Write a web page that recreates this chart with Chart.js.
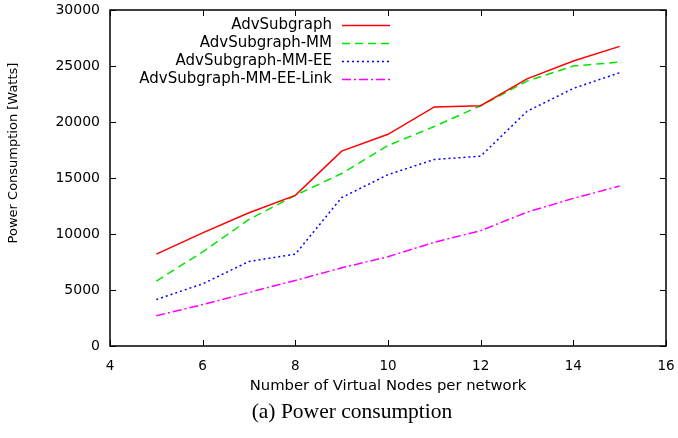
<!DOCTYPE html>
<html>
<head>
<meta charset="utf-8">
<script src="https://cdn.jsdelivr.net/npm/chart.js@4"></script>
<style>
  html, body { margin: 0; padding: 0; background: #fff; }
  #wrap { position: relative; width: 678px; height: 438px; }
  #caption { position: absolute; left: 0; width: 704px; top: 399px; text-align: center;
    font-family: "Liberation Serif", serif; font-size: 21.5px; color: #000; }
</style>
</head>
<body>
<div id="wrap">
  <canvas id="c" width="678" height="438"></canvas>
  <div id="caption">(a) Power consumption</div>
</div>
<script>
const xValues = [5, 6, 7, 8, 9, 10, 11, 12, 13, 14, 15];
const seriesNames = ["AdvSubgraph", "AdvSubgraph-MM", "AdvSubgraph-MM-EE", "AdvSubgraph-MM-EE-Link"];
const advSubgraph = [8200, 10100, 11900, 13450, 17400, 18900, 21350, 21450, 23850, 25450, 26750];
const advSubgraphMM = [5800, 8400, 11300, 13450, 15400, 17900, 19600, 21450, 23650, 25000, 25350];
const advSubgraphMMEE = [4150, 5550, 7550, 8200, 13250, 15300, 16650, 16950, 20950, 23000, 24400];
const advSubgraphMMEELink = [2700, 3700, 4780, 5850, 6980, 7970, 9260, 10300, 11950, 13180, 14280];
const xTicks = [4, 6, 8, 10, 12, 14, 16];
const yTicks = [0, 5000, 10000, 15000, 20000, 25000, 30000];

const colors = ["#ff0000", "#00e600", "#0000ff", "#ff00ff"];
const dashes = [[], [8, 5], [2, 3], [9, 3, 2, 3]];
const allSeries = [advSubgraph, advSubgraphMM, advSubgraphMMEE, advSubgraphMMEELink];

const datasets = allSeries.map((s, i) => ({
  label: seriesNames[i],
  data: xValues.map((x, j) => ({ x: x, y: s[j] })),
  borderColor: colors[i],
  borderWidth: 1.5,
  borderDash: dashes[i],
  pointRadius: 0,
  fill: false,
  tension: 0
}));

const frameAndLegend = {
  id: 'frameAndLegend',
  afterDraw(chart) {
    const ctx = chart.ctx;
    const a = chart.chartArea;
    const xs = chart.scales.x, ys = chart.scales.y;
    ctx.save();
    ctx.strokeStyle = '#000';
    ctx.lineWidth = 1;
    const tl = 6;
    ctx.beginPath();
    xTicks.forEach(v => {
      const px = Math.round(xs.getPixelForValue(v)) + 0.5;
      ctx.moveTo(px, a.bottom); ctx.lineTo(px, a.bottom - tl);
      ctx.moveTo(px, a.top); ctx.lineTo(px, a.top + tl);
    });
    yTicks.forEach(v => {
      const py = Math.round(ys.getPixelForValue(v)) + 0.5;
      ctx.moveTo(a.left, py); ctx.lineTo(a.left + tl, py);
      ctx.moveTo(a.right, py); ctx.lineTo(a.right - tl, py);
    });
    ctx.stroke();
    ctx.lineWidth = 1.5;
    ctx.strokeRect(a.left, a.top, a.right - a.left, a.bottom - a.top);

    // y axis title
    ctx.save();
    ctx.translate(14, 153);
    ctx.rotate(-Math.PI / 2);
    ctx.font = '13px "DejaVu Sans"';
    ctx.fillStyle = '#000';
    ctx.textAlign = 'center';
    ctx.textBaseline = 'middle';
    ctx.fillText('Power Consumption [Watts]', 0, 0);
    ctx.restore();

    // legend
    ctx.font = '15px "DejaVu Sans"';
    ctx.textAlign = 'right';
    ctx.textBaseline = 'middle';
    const textRight = 332, sx0 = 342, sx1 = 390;
    const rowY = [25, 43, 61, 79];
    seriesNames.forEach((n, i) => {
      ctx.fillStyle = '#000';
      ctx.fillText(n, textRight, rowY[i]);
      ctx.strokeStyle = colors[i];
      ctx.lineWidth = 1.5;
      ctx.setLineDash(dashes[i]);
      ctx.beginPath();
      ctx.moveTo(sx0, rowY[i] + 0.5); ctx.lineTo(sx1, rowY[i] + 0.5);
      ctx.stroke();
      ctx.setLineDash([]);
    });
    ctx.restore();
  }
};

new Chart(document.getElementById('c'), {
  type: 'line',
  data: { datasets: datasets },
  options: {
    responsive: false,
    animation: false,
    layout: { padding: { top: 10, right: 12, left: 0, bottom: 0 } },
    plugins: { legend: { display: false }, tooltip: { enabled: false } },
    scales: {
      x: {
        type: 'linear', min: 4, max: 16,
        afterBuildTicks: s => { s.ticks = xTicks.map(v => ({ value: v })); },
        afterFit: s => { s.height = 92; s.paddingLeft = 0; s.paddingRight = 0; },
        grid: { display: false, drawTicks: false },
        border: { display: false },
        ticks: { color: '#000', font: { family: 'DejaVu Sans', size: 13.5 }, padding: 12, maxRotation: 0 },
        title: { display: true, text: 'Number of Virtual Nodes per network', color: '#000',
          font: { family: 'DejaVu Sans', size: 14.8 }, padding: { top: 0, bottom: 43 } }
      },
      y: {
        type: 'linear', min: 0, max: 30000,
        afterBuildTicks: s => { s.ticks = yTicks.map(v => ({ value: v })); },
        afterFit: s => { s.width = 110; s.paddingTop = 0; s.paddingBottom = 0; },
        grid: { display: false, drawTicks: false },
        border: { display: false },
        ticks: { color: '#000', font: { family: 'DejaVu Sans', size: 14 }, padding: 10,
          callback: v => String(v) },
        title: { display: false }
      }
    }
  },
  plugins: [frameAndLegend]
});
</script>
</body>
</html>
